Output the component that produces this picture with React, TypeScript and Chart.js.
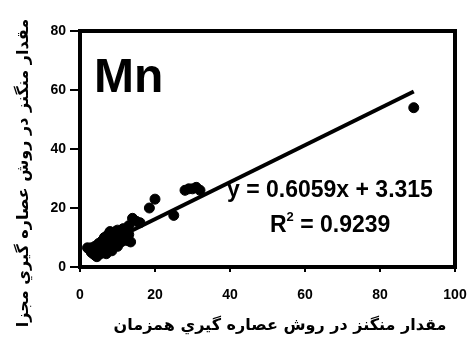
import React, { useEffect, useRef } from "react";
import { Chart, registerables } from "chart.js";
Chart.register(...registerables);

// Scatter points: separate extraction (y) vs simultaneous extraction (x)
const xValues = [2, 2.5, 3, 3, 3.5, 3.5, 4, 4, 4.5, 4.5, 4, 5, 5, 5, 5.5, 5.5, 6, 6, 6, 6.5, 6.5, 6.5, 7, 7, 7, 7.5, 7.5, 7.5, 8, 8, 8, 8.5, 8.5, 9, 9, 9.5, 9.5, 10, 10, 10, 10.5, 11, 11, 11.5, 12, 12, 12.5, 13, 13, 13.5, 14, 15, 16, 18.5, 20, 25, 28, 29, 30, 31, 32, 89];
const yValues = [6.5, 6, 6.5, 5, 5.5, 4.5, 4, 6, 3.5, 5, 7, 5, 6.5, 8, 4.5, 6, 5, 7, 9, 8, 5.5, 10, 4.5, 9, 7, 6, 11, 8, 10, 7.5, 12, 5.5, 9, 9, 11, 12, 8, 10, 7, 12.5, 11, 8.5, 10, 13, 10, 12, 9, 14, 11, 8.5, 16.5, 15.5, 15, 20, 23, 17.5, 26, 26.5, 26.5, 27, 26, 54];
const trendX = [4, 89];
const trendY = [6.2, 59.5];
const xTicks = [0, 20, 40, 60, 80, 100];
const yTicks = [0, 20, 40, 60, 80];
const xTitle = "مقدار منگنز در روش عصاره گيري همزمان";
const yTitle = "مقدار منگنز در روش عصاره گيري مجزا";
const label = "Mn";
const eqText = "y = 0.6059x + 3.315";
const r2Value = "0.9239";

export default function App() {
  const ref = useRef<HTMLCanvasElement>(null);
  useEffect(() => {
    const canvas = ref.current!;
    const overlay = {
      id: "overlay",
      afterDatasetsDraw(chart: any) {
        const { ctx, chartArea: a } = chart;
        ctx.save();
        ctx.strokeStyle = "#000";
        ctx.lineWidth = 4;
        ctx.strokeRect(a.left, a.top, a.right - a.left, a.bottom - a.top);
        ctx.fillStyle = "#000";
        ctx.textBaseline = "alphabetic";
        ctx.textAlign = "left";
        ctx.font = "bold 48px 'Liberation Sans', Arial, sans-serif";
        ctx.fillText(label, 94, 92);
        ctx.font = "bold 23px 'Liberation Sans', Arial, sans-serif";
        ctx.fillText(eqText, 227, 197);
        ctx.fillText("R", 270, 232);
        const rw = ctx.measureText("R").width;
        ctx.font = "bold 13px 'Liberation Sans', Arial, sans-serif";
        ctx.fillText("2", 270 + rw, 221);
        const sw = ctx.measureText("2").width;
        ctx.font = "bold 23px 'Liberation Sans', Arial, sans-serif";
        ctx.fillText(" = " + r2Value, 270 + rw + sw, 232);
        ctx.font = "bold 16px 'DejaVu Sans', sans-serif";
        ctx.textAlign = "center";
        ctx.textBaseline = "middle";
        ctx.fillText(xTitle, 280, 326);
        ctx.translate(24, 173);
        ctx.rotate(-Math.PI / 2);
        ctx.fillText(yTitle, 0, 0);
        ctx.restore();
      },
    };
    const chart = new Chart(canvas, {
      type: "scatter",
      data: {
        datasets: [
          {
            type: "line",
            data: trendX.map((x, i) => ({ x, y: trendY[i] })),
            borderColor: "#000",
            borderWidth: 4,
            pointRadius: 0,
            fill: false,
          } as any,
          {
            data: xValues.map((x, i) => ({ x, y: yValues[i] })),
            backgroundColor: "#000",
            borderColor: "#000",
            pointRadius: 5,
          },
        ],
      },
      options: {
        animation: false,
        responsive: false,
        plugins: { legend: { display: false }, tooltip: { enabled: false } },
        layout: { padding: { top: 31, right: 18, left: 0, bottom: 0 } },
        scales: {
          x: {
            type: "linear",
            min: 0,
            max: 100,
            afterFit: (s: any) => { s.height = 71; s.paddingLeft = 0; s.paddingRight = 0; },
            afterBuildTicks: (s: any) => { s.ticks = xTicks.map((v) => ({ value: v })); },
            border: { display: false },
            grid: { drawOnChartArea: false, drawTicks: true, tickLength: 5, color: "#000", lineWidth: 2 },
            ticks: { color: "#000", font: { family: "'Liberation Sans', Arial", weight: "bold", size: 14 }, padding: 15, maxRotation: 0 },
          },
          y: {
            type: "linear",
            min: 0,
            max: 80,
            afterFit: (s: any) => { s.width = 80; s.paddingTop = 0; s.paddingBottom = 0; },
            afterBuildTicks: (s: any) => { s.ticks = yTicks.map((v) => ({ value: v })); },
            border: { display: false },
            grid: { drawOnChartArea: false, drawTicks: true, tickLength: 10, color: "#000", lineWidth: 2 },
            ticks: { color: "#000", font: { family: "'Liberation Sans', Arial", weight: "bold", size: 14 }, padding: 4 },
          },
        },
      },
      plugins: [overlay],
    } as any);
    return () => chart.destroy();
  }, []);
  return (
    <div style={{ position: "fixed", left: 0, top: 0, width: 473, height: 338, background: "#fff" }}>
      <canvas ref={ref} width={473} height={338} style={{ width: 473, height: 338 }} />
    </div>
  );
}
